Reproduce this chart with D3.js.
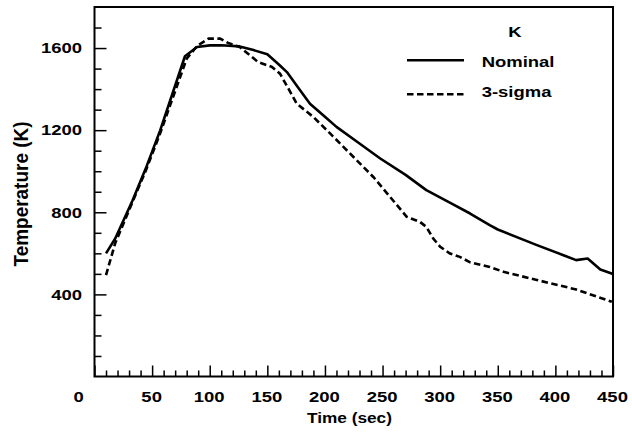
<!DOCTYPE html>
<html>
<head>
<meta charset="utf-8">
<script src="https://cdn.jsdelivr.net/npm/d3@7"></script>
<style>
  html, body { margin: 0; padding: 0; background: #fff; }
  svg text { font-family: "Liberation Sans", Arial, Helvetica, sans-serif; font-weight: bold; fill: #000; }
</style>
</head>
<body>
<div id="chart"></div>
<script>
// Nominal temperature history
const nominalTime = [10, 18, 33, 45, 57, 78.5, 89, 100, 110, 126, 138, 150, 160, 167, 177, 187, 200, 210, 230, 248, 270, 288, 310, 326, 343, 350, 384, 407, 418, 428, 439, 450];
const nominalTemp = [600, 672, 857, 1021, 1199, 1560, 1605, 1613, 1614, 1608, 1590, 1570, 1520, 1483, 1405, 1329, 1265, 1216, 1135, 1062, 982, 908, 842, 794, 737, 716, 640, 591, 567, 575, 521, 499];

// 3-sigma temperature history
const sigmaTime = [10, 18, 33, 45, 57, 80, 89, 99, 109, 116, 126, 142, 154, 161, 168, 175.5, 190, 207, 225, 242, 271, 282.5, 288, 294, 300, 308.5, 317, 326, 343, 355, 384, 418, 449];
const sigmaTemp = [494, 650, 850, 1010, 1185, 1548, 1610, 1646, 1646, 1625, 1605, 1532, 1508, 1475, 1405, 1329, 1264, 1170, 1068, 972, 778, 753, 729, 672, 632, 599, 583, 556, 534, 510, 470, 424, 364];

// axis ticks
const xTickLabels = [0, 50, 100, 150, 200, 250, 300, 350, 400, 450];
const yTickLabels = [400, 800, 1200, 1600];
const series = ["Nominal", "3-sigma"];

const width = 632, height = 436;
const stretchK = 1.23; // the scanned glyphs are wider than regular Helvetica

const svg = d3.select("#chart").append("svg")
    .attr("width", width)
    .attr("height", height);

const x = d3.scaleLinear().domain([0, 450]).range([94.5, 613]);
const y = d3.scaleLinear().domain([0, 1800]).range([376.5, 7]);

function stretch(sel, k) {
    sel.each(function () {
        const len = this.getComputedTextLength();
        d3.select(this).attr("textLength", len * k).attr("lengthAdjust", "spacingAndGlyphs");
    });
}

// minor ticks
svg.append("g")
    .attr("transform", `translate(0,${y(0)})`)
    .call(d3.axisBottom(x).tickValues(d3.range(10, 450, 10).filter(d => d % 50 !== 0)).tickSize(-6).tickFormat(""))
    .call(g => g.select(".domain").remove())
    .call(g => g.selectAll("line").attr("stroke-width", 1.5));

svg.append("g")
    .attr("transform", `translate(${x(0)},0)`)
    .call(d3.axisLeft(y).tickValues(d3.range(100, 1800, 100).filter(d => d % 400 !== 0)).tickSize(-7).tickFormat(""))
    .call(g => g.select(".domain").remove())
    .call(g => g.selectAll("line").attr("stroke-width", 1.5));

// major ticks + labels
const xAxis = svg.append("g")
    .attr("transform", `translate(0,${y(0)})`)
    .call(d3.axisBottom(x).tickValues(xTickLabels).tickSize(-11).tickPadding(14.5).tickFormat(d3.format("d")))
    .call(g => g.select(".domain").remove())
    .call(g => g.selectAll("line").attr("stroke-width", 1.5));
xAxis.selectAll("text")
    .style("font-size", "15px")
    .attr("dx", d => d === 0 ? -16.5 : -1);
stretch(xAxis.selectAll("text"), stretchK);

const yAxis = svg.append("g")
    .attr("transform", `translate(${x(0)},0)`)
    .call(d3.axisLeft(y).tickValues(yTickLabels).tickSize(-12).tickPadding(12.5).tickFormat(d3.format("d")))
    .call(g => g.select(".domain").remove())
    .call(g => g.selectAll("line").attr("stroke-width", 1.5));
yAxis.selectAll("text").style("font-size", "15px");
stretch(yAxis.selectAll("text"), stretchK);

// frame
svg.append("rect")
    .attr("x", x(0))
    .attr("y", y(1800))
    .attr("width", x(450) - x(0))
    .attr("height", y(0) - y(1800))
    .attr("fill", "none")
    .attr("stroke", "#000")
    .attr("stroke-width", 2);

// lines
const line = d3.line().x(d => x(d[0])).y(d => y(d[1]));

svg.append("path")
    .datum(d3.zip(nominalTime, nominalTemp))
    .attr("d", line)
    .attr("fill", "none")
    .attr("stroke", "#000")
    .attr("stroke-width", 2.6)
    .attr("stroke-linejoin", "round");

svg.append("path")
    .datum(d3.zip(sigmaTime, sigmaTemp))
    .attr("d", line)
    .attr("fill", "none")
    .attr("stroke", "#000")
    .attr("stroke-width", 2.6)
    .attr("stroke-dasharray", "6.5,3.5");

// axis titles
const xTitle = svg.append("text")
    .attr("x", 349.5)
    .attr("y", 422.5)
    .attr("text-anchor", "middle")
    .style("font-size", "14px")
    .text("Time (sec)");
stretch(xTitle, stretchK);

svg.append("text")
    .attr("transform", "translate(28,194) rotate(-90) scale(1,1.2)")
    .attr("text-anchor", "middle")
    .style("font-size", "17px")
    .attr("textLength", 145)
    .attr("lengthAdjust", "spacingAndGlyphs")
    .text("Temperature (K)");

// legend
const kTitle = svg.append("text")
    .attr("x", 515)
    .attr("y", 36.7)
    .attr("text-anchor", "middle")
    .style("font-size", "15px")
    .text("K");
stretch(kTitle, stretchK);

const legendY = [60.3, 94.3];
const legendTextY = [66.7, 97.3];
const legend = svg.append("g");
series.forEach((name, i) => {
    legend.append("line")
        .attr("x1", 407).attr("x2", 464)
        .attr("y1", legendY[i]).attr("y2", legendY[i])
        .attr("stroke", "#000")
        .attr("stroke-width", 2.6)
        .attr("stroke-dasharray", i === 1 ? "6.5,3.5" : null);
    const t = legend.append("text")
        .attr("x", 481.7)
        .attr("y", legendTextY[i])
        .style("font-size", "15px")
        .text(name);
    stretch(t, stretchK);
});
</script>
</body>
</html>
